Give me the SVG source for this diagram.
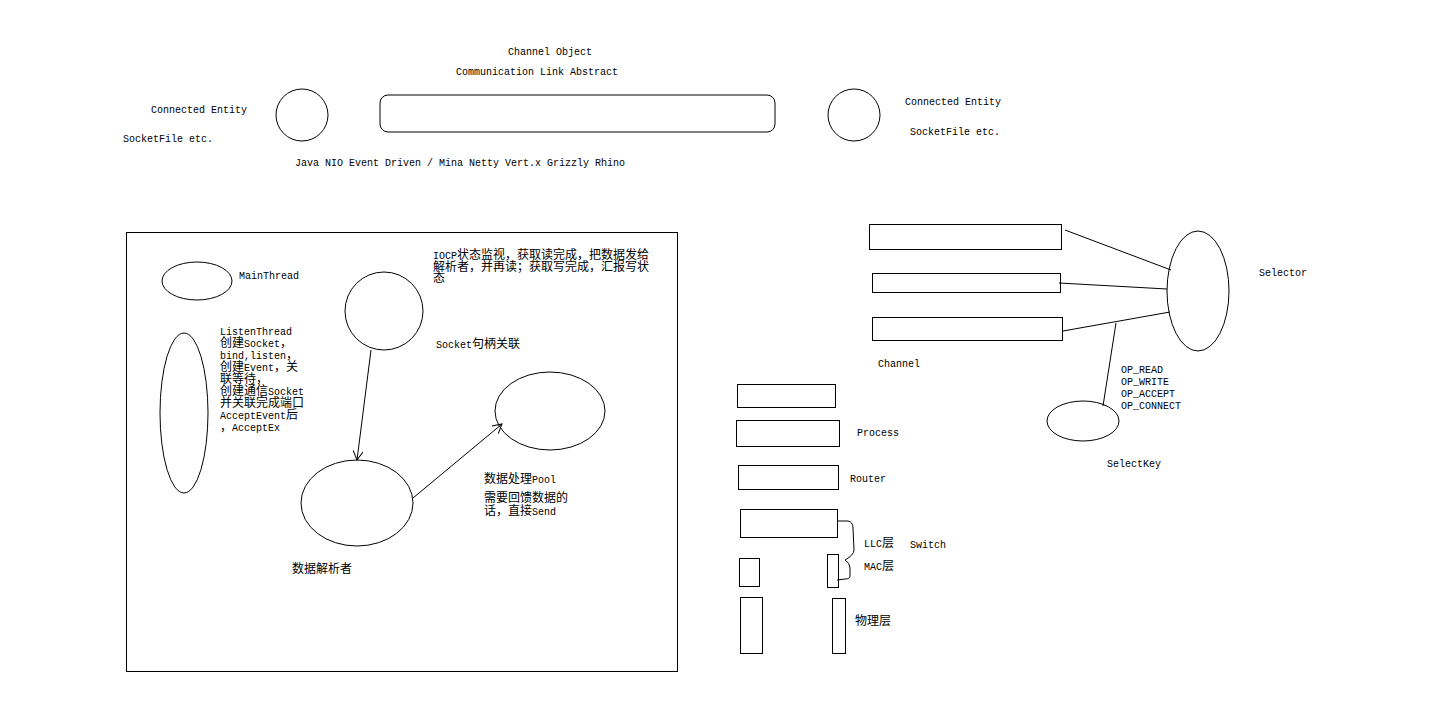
<svg xmlns="http://www.w3.org/2000/svg" width="1441" height="703" viewBox="0 0 1441 703">
<style>
.s{fill:none;stroke:#000;stroke-width:1}
text{font-family:"Liberation Mono","Noto Sans CJK SC",monospace;font-size:10px;fill:#000}
.c{font-size:12px;font-family:"Noto Sans CJK SC",sans-serif}
</style>
<defs>
<marker id="v" markerWidth="12" markerHeight="12" refX="10" refY="5" orient="auto" markerUnits="userSpaceOnUse">
<path d="M1,0 L10,5 L1,10" fill="none" stroke="#000" stroke-width="1"/>
</marker>
</defs>
<rect width="1441" height="703" fill="#fff"/>

<g id="top">
<text x="508" y="55">Channel Object</text>
<text x="456" y="75">Communication Link Abstract</text>
<text x="151" y="113">Connected Entity</text>
<text x="123" y="142">SocketFile etc.</text>
<circle class="s" cx="302" cy="115" r="26"/>
<rect class="s" x="380" y="95" width="395" height="37" rx="8"/>
<circle class="s" cx="854" cy="115" r="26"/>
<text x="905" y="105">Connected Entity</text>
<text x="910" y="135">SocketFile etc.</text>
<text x="295" y="166">Java NIO Event Driven / Mina Netty Vert.x Grizzly Rhino</text>
</g>

<g id="iocp-frame">
<rect class="s" x="126.5" y="232.5" width="551" height="439"/>
</g>
<g id="main-thread">
<ellipse class="s" cx="197" cy="281" rx="35" ry="19"/>
<text x="239" y="279">MainThread</text>
</g>
<g id="listen-thread">
<ellipse class="s" cx="184" cy="413" rx="24" ry="80"/>
<text x="220" y="335">ListenThread</text>
<text x="220" y="347"><tspan class="c">创建</tspan>Socket<tspan class="c">，</tspan></text>
<text x="220" y="359">bind,listen<tspan class="c">，</tspan></text>
<text x="220" y="371"><tspan class="c">创建</tspan>Event<tspan class="c">，关</tspan></text>
<text x="220" y="383"><tspan class="c">联等待，</tspan></text>
<text x="220" y="395"><tspan class="c">创建通信</tspan>Socket</text>
<text x="220" y="407"><tspan class="c">并关联完成端口</tspan></text>
<text x="220" y="419">AcceptEvent<tspan class="c">后</tspan></text>
<text x="220" y="431"><tspan class="c">，</tspan>AcceptEx</text>
</g>
<g id="socket">
<circle class="s" cx="384" cy="311" r="39"/>
<text x="436" y="348">Socket<tspan class="c">句柄关联</tspan></text>
<text x="433" y="259">IOCP<tspan class="c">状态监视，获取读完成，把数据发给</tspan></text>
<text x="433" y="271"><tspan class="c">解析者，并再读；获取写完成，汇报写状</tspan></text>
<text x="433" y="282"><tspan class="c">态</tspan></text>
</g>
<g id="parser">
<ellipse class="s" cx="357" cy="503" rx="56" ry="43"/>
<text x="292" y="573"><tspan class="c">数据解析者</tspan></text>
</g>
<g id="pool">
<ellipse class="s" cx="550" cy="411" rx="55" ry="39"/>
<text x="484" y="483"><tspan class="c">数据处理</tspan>Pool</text>
<text x="484" y="502"><tspan class="c">需要回馈数据的</tspan></text>
<text x="484" y="515"><tspan class="c">话，直接</tspan>Send</text>
</g>

<g id="layers">
<rect class="s" x="737.5" y="384.5" width="98" height="23"/>
<rect class="s" x="736.5" y="420.5" width="103" height="26"/>
<text x="857" y="436">Process</text>
<rect class="s" x="738.5" y="465.5" width="100" height="24"/>
<text x="850" y="482">Router</text>
<rect class="s" x="740.5" y="509.5" width="97" height="28"/>
<rect class="s" x="739.5" y="558.5" width="20" height="28"/>
<rect class="s" x="827.5" y="554.5" width="11" height="33"/>
<rect class="s" x="740.5" y="597.5" width="22" height="56"/>
<rect class="s" x="832.5" y="598.5" width="13" height="55"/>
<path class="s" d="M838,521 L848,521 Q853,522 853,528 L854,550 Q854,555 845,560 Q850,563 850,568 L850,576 Q850,579 845,579 L837,580"/>
<text x="864" y="547">LLC<tspan class="c">层</tspan></text>
<text x="910" y="548">Switch</text>
<text x="864" y="570">MAC<tspan class="c">层</tspan></text>
<text x="855" y="625"><tspan class="c">物理层</tspan></text>
</g>

<g id="channels">
<rect class="s" x="869.5" y="224.5" width="192" height="25"/>
<rect class="s" x="872.5" y="273.5" width="188" height="19"/>
<rect class="s" x="872.5" y="317.5" width="190" height="23"/>
<text x="878" y="367">Channel</text>
</g>
<g id="selector">
<ellipse class="s" cx="1198" cy="291" rx="31" ry="60"/>
<text x="1259" y="276">Selector</text>
</g>
<g id="selectkey">
<ellipse class="s" cx="1083" cy="421" rx="36" ry="20"/>
<text x="1107" y="467">SelectKey</text>
<text x="1121" y="373">OP_READ</text>
<text x="1121" y="385">OP_WRITE</text>
<text x="1121" y="397">OP_ACCEPT</text>
<text x="1121" y="409">OP_CONNECT</text>
</g>

<g id="connectors">
<line class="s" x1="371" y1="350" x2="357" y2="460" marker-end="url(#v)"/>
<line class="s" x1="413" y1="498" x2="502" y2="424" marker-end="url(#v)"/>
<line class="s" x1="1065" y1="230" x2="1171" y2="270"/>
<line class="s" x1="1059" y1="283" x2="1167" y2="289"/>
<line class="s" x1="1063" y1="331" x2="1170" y2="312"/>
<line class="s" x1="1116" y1="323" x2="1103" y2="406"/>
</g>
</svg>
